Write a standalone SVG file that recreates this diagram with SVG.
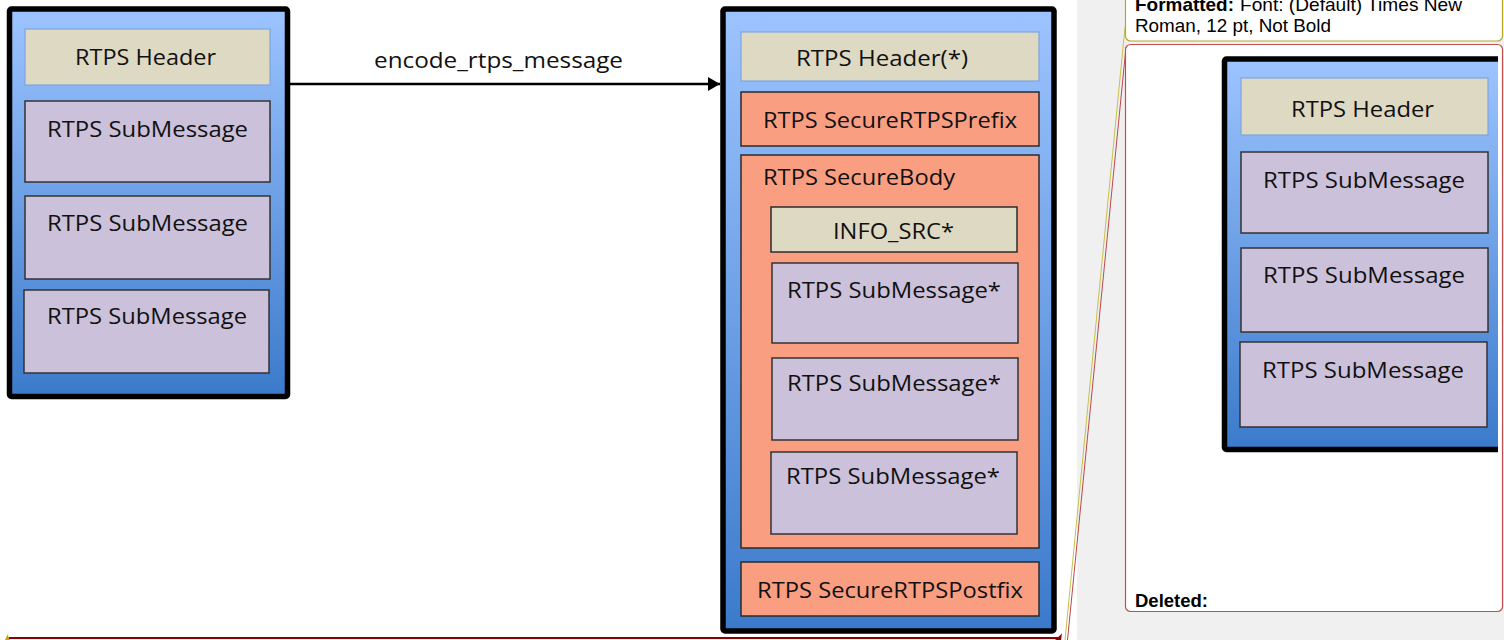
<svg xmlns="http://www.w3.org/2000/svg" width="1504" height="640" viewBox="0 0 1504 640">
<style>
.t{font-family:"Open Sans","Noto Sans",sans-serif;font-size:22.5px;fill:#111}
.c{text-anchor:middle}
.frame{fill:url(#blue);stroke:#000;stroke-width:5.5}
.hdr{fill:#ddd9c3;stroke:#7ea6dc;stroke-width:1.2}
.hdr2{fill:#ddd9c3;stroke:#2b2b2b;stroke-width:1.5}
.sub{fill:#ccc1da;stroke:#333;stroke-width:1.5}
.sec{fill:#fa9e82;stroke:#2b2b2b;stroke-width:1.5}
.note{font-family:"Liberation Sans",Arial,sans-serif;font-size:18.5px;fill:#000}
</style>
<defs>
<linearGradient id="blue" x1="0" y1="0" x2="0" y2="1">
<stop offset="0" stop-color="#9dc4ff"/>
<stop offset="1" stop-color="#3b7acb"/>
</linearGradient>
<marker id="arr" viewBox="0 0 12 14" refX="12" refY="7" markerWidth="12" markerHeight="14" markerUnits="userSpaceOnUse" orient="auto">
<path d="M0,0 L12,7 L0,14 z" fill="#000"/>
</marker>
<clipPath id="balloonClip"><rect x="1126" y="45" width="372" height="566"/></clipPath>
</defs>
<rect x="0" y="0" width="1504" height="640" fill="#fff"/>
<rect x="1077" y="0" width="427" height="640" fill="#f0f0f0"/>

<g id="plain-message">
<rect class="frame" x="9.5" y="9" width="278" height="387.5" rx="2"/>
<rect class="hdr" x="25" y="29" width="245" height="56"/>
<text class="t c" x="145.5" y="65" textLength="141" lengthAdjust="spacingAndGlyphs">RTPS Header</text>
<rect class="sub" x="25" y="101" width="245" height="81"/>
<text class="t c" x="147.5" y="137" textLength="201" lengthAdjust="spacingAndGlyphs">RTPS SubMessage</text>
<rect class="sub" x="25" y="196" width="245" height="83"/>
<text class="t c" x="147.5" y="231" textLength="201" lengthAdjust="spacingAndGlyphs">RTPS SubMessage</text>
<rect class="sub" x="24" y="290" width="245" height="83"/>
<text class="t c" x="147" y="324" textLength="200" lengthAdjust="spacingAndGlyphs">RTPS SubMessage</text>
</g>

<g id="secure-message">
<rect class="frame" x="723" y="9" width="331" height="622" rx="2"/>
<rect class="hdr" x="741" y="32" width="298" height="49"/>
<text class="t c" x="882" y="66" textLength="172" lengthAdjust="spacingAndGlyphs">RTPS Header(*)</text>
<rect class="sec" x="741" y="92" width="298" height="54"/>
<text class="t c" x="890" y="128" textLength="254" lengthAdjust="spacingAndGlyphs">RTPS SecureRTPSPrefix</text>
<rect class="sec" x="741" y="155" width="298" height="393"/>
<text class="t" x="763" y="185" textLength="192" lengthAdjust="spacingAndGlyphs">RTPS SecureBody</text>
<rect class="hdr2" x="771" y="207" width="246" height="45"/>
<text class="t c" x="893.5" y="239" textLength="121" lengthAdjust="spacingAndGlyphs">INFO_SRC*</text>
<rect class="sub" x="772" y="263" width="246" height="80"/>
<text class="t c" x="894" y="298" textLength="214" lengthAdjust="spacingAndGlyphs">RTPS SubMessage*</text>
<rect class="sub" x="772" y="358" width="246" height="82"/>
<text class="t c" x="894" y="391" textLength="214" lengthAdjust="spacingAndGlyphs">RTPS SubMessage*</text>
<rect class="sub" x="771" y="452" width="246" height="82"/>
<text class="t c" x="893" y="484" textLength="214" lengthAdjust="spacingAndGlyphs">RTPS SubMessage*</text>
<rect class="sec" x="741" y="562" width="298" height="54"/>
<text class="t c" x="890" y="598" textLength="266" lengthAdjust="spacingAndGlyphs">RTPS SecureRTPSPostfix</text>
</g>

<g id="connectors">
<line x1="290" y1="84" x2="720" y2="84" stroke="#000" stroke-width="2.4" marker-end="url(#arr)"/>
<text class="t c" x="498.5" y="68" textLength="249" lengthAdjust="spacingAndGlyphs">encode_rtps_message</text>
</g>

<g id="revision-marks">
<path d="M5,640 L7.5,634.5 L10,640 z" fill="#b5a81c"/>
<line x1="9" y1="638" x2="1060" y2="638" stroke="#8b0000" stroke-width="2"/>
<path d="M1055,640 L1062,633.5 L1061,640 z" fill="#8b0000"/>
<line x1="1065" y1="640" x2="1125" y2="27" stroke="#c8c04a" stroke-width="1"/>
<line x1="1067.5" y1="640" x2="1126" y2="47" stroke="#b94a48" stroke-width="1"/>
</g>

<g id="balloon-formatted">
<rect x="1125.5" y="-10" width="377" height="51" rx="5" fill="#fff" stroke="#b3a82a" stroke-width="1.2"/>
<text class="note" x="1135" y="11" font-weight="bold" textLength="99" lengthAdjust="spacingAndGlyphs">Formatted:</text>
<text class="note" x="1240" y="11" textLength="222" lengthAdjust="spacingAndGlyphs">Font: (Default) Times New</text>
<text class="note" x="1135" y="32" textLength="196" lengthAdjust="spacingAndGlyphs">Roman, 12 pt, Not Bold</text>
</g>

<g id="balloon-deleted">
<rect x="1125.5" y="44.5" width="377" height="567" rx="5" fill="#fff" stroke="#c0504d" stroke-width="1.2"/>
<g clip-path="url(#balloonClip)">
<rect class="frame" x="1224.5" y="59" width="290" height="390.5" rx="2"/>
<rect class="hdr" x="1241" y="78" width="247" height="57"/>
<text class="t c" x="1362.5" y="117" textLength="143" lengthAdjust="spacingAndGlyphs">RTPS Header</text>
<rect class="sub" x="1241" y="152" width="247" height="81"/>
<text class="t c" x="1364" y="188" textLength="202" lengthAdjust="spacingAndGlyphs">RTPS SubMessage</text>
<rect class="sub" x="1241" y="248" width="247" height="84"/>
<text class="t c" x="1364" y="283" textLength="202" lengthAdjust="spacingAndGlyphs">RTPS SubMessage</text>
<rect class="sub" x="1240" y="342" width="247" height="85"/>
<text class="t c" x="1363" y="378" textLength="202" lengthAdjust="spacingAndGlyphs">RTPS SubMessage</text>
</g>
<text class="note" x="1135" y="607" font-weight="bold" textLength="73" lengthAdjust="spacingAndGlyphs">Deleted:</text>
</g>
</svg>
